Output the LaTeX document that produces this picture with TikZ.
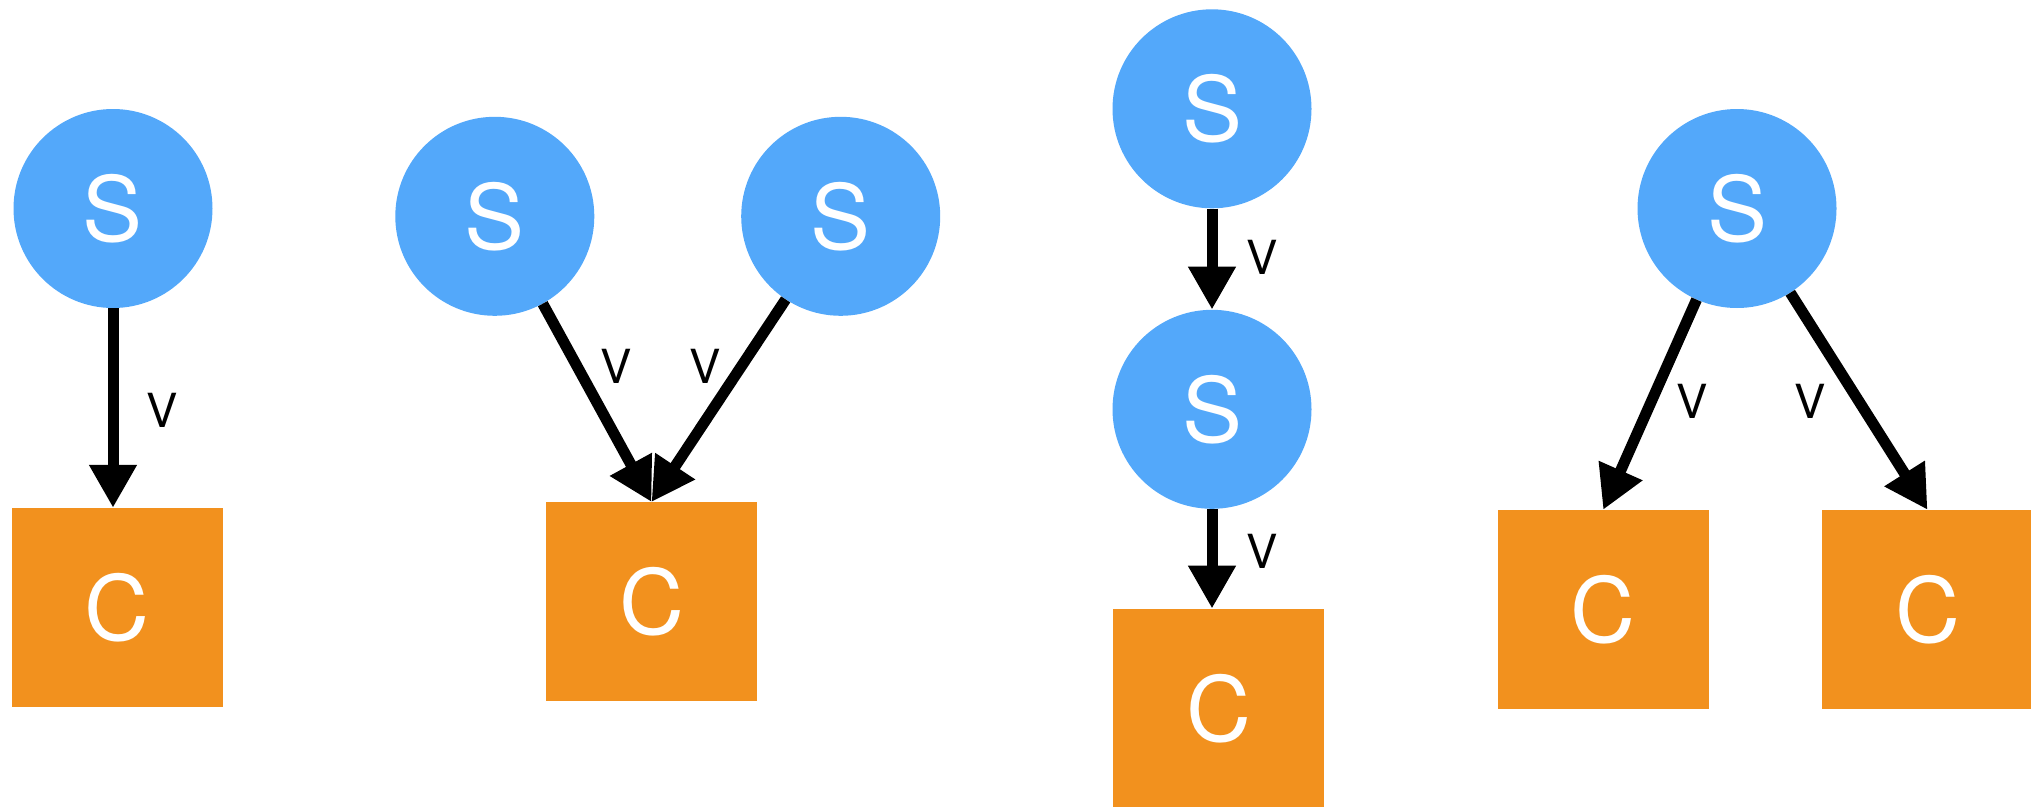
\documentclass[tikz,border=0pt]{standalone}
\usepackage{fontspec}
\setmainfont{TeX Gyre Heros}
\usetikzlibrary{arrows.meta}
\definecolor{stateblue}{RGB}{83,168,250}
\definecolor{cellorange}{RGB}{242,145,30}
\tikzset{
  snode/.style={circle, fill=stateblue, draw=none, minimum size=199pt, inner sep=0pt,
    text=white, font=\fontsize{90}{90}\selectfont},
  cnode/.style={rectangle, fill=cellorange, draw=none, minimum width=211pt, minimum height=199pt,
    inner sep=0pt, text=white, font=\fontsize{90}{90}\selectfont},
  link/.style={line width=11pt, -{Triangle[width=45pt,length=43pt]}},
  vlab/.style={inner sep=0pt, font=\fontsize{47}{47}\selectfont}
}
\begin{document}
\begin{tikzpicture}[x=1pt, y=-1pt]
\useasboundingbox (0,0) rectangle (2031,806);

% single state feeding one cell
\node[snode] (s1) at (113,208.5) {S};
\node[cnode] (c1) at (117.3,607.5) {C};
\coordinate (e1) at (s1 |- c1.north);
\draw[link] (s1) -- (e1);
\node[vlab] (v1) at (162,410) {V};

% two states feeding one cell
\node[snode] (s2a) at (494.8,216.3) {S};
\node[snode] (s2b) at (840.7,216.3) {S};
\node[cnode] (c2) at (651.5,601.7) {C};
\draw[link] (s2a) -- (c2.north);
\draw[link] (s2b) -- (c2.north);
\node[vlab] (v2a) at (616.5,366) {V};
\node[vlab] (v2b) at (705,366) {V};

% chain of two states into one cell
\node[snode] (s3a) at (1212,108.8) {S};
\node[snode] (s3b) at (1212,409.3) {S};
\node[cnode] (c3) at (1218.9,708.3) {C};
\coordinate (e3) at (s3b |- c3.north);
\draw[link] (s3a) -- (s3b);
\draw[link] (s3b) -- (e3);
\node[vlab] (v3a) at (1262,257) {V};
\node[vlab] (v3b) at (1262,551) {V};

% one state feeding two cells
\node[snode] (s4) at (1737,208.5) {S};
\node[cnode] (c4a) at (1603.2,609.5) {C};
\node[cnode] (c4b) at (1927.5,609.5) {C};
\draw[link] (s4) -- (c4a.north);
\draw[link] (s4) -- (c4b.north);
\node[vlab] (v4a) at (1692,401) {V};
\node[vlab] (v4b) at (1810,401) {V};
\end{tikzpicture}
\end{document}
